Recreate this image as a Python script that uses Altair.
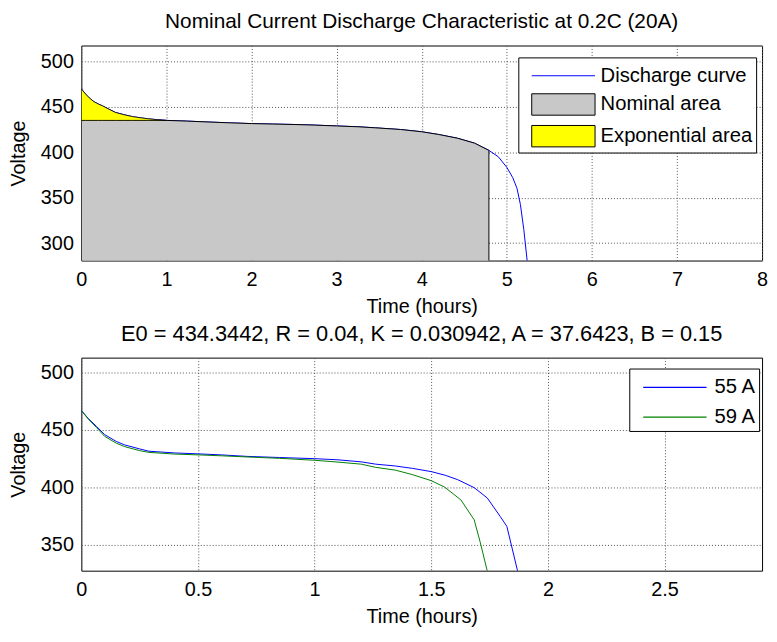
import altair as alt
import pandas as pd

# ---------------- Top panel: nominal discharge (0.2C, 20 A) ----------------
curve_t = [0, 0.05, 0.093, 0.15, 0.2, 0.25, 0.3, 0.4, 0.5, 0.6, 0.7, 0.79, 0.9, 1.0,
           1.25, 1.5, 1.75, 2.0, 2.25, 2.5, 2.75, 3.0, 3.25, 3.46, 3.75, 4.0, 4.2,
           4.42, 4.62, 4.79, 4.9, 5.0, 5.07, 5.12, 5.16, 5.2, 5.24, 5.27]
curve_v = [469.7, 464.0, 459.8, 455.5, 453.0, 451.0, 448.5, 443.8, 441.3, 439.2, 437.8,
           436.7, 435.7, 435.0, 434.2, 433.2, 432.3, 431.5, 431.0, 430.5, 429.8, 428.9,
           428.0, 426.8, 425.0, 422.5, 419.5, 415.4, 410.0, 402.0, 395.0, 383.4, 372.0,
           360.3, 342.5, 315.0, 280.0, 255.0]
nominal_end_t = 4.79
exp_level_v = 435.0
top_items = ["Discharge curve", "Nominal area", "Exponential area"]

# ---------------- Bottom panel: discharge at 55 A and 59 A ----------------
t55 = [0, 0.03, 0.066, 0.1, 0.15, 0.186, 0.25, 0.29, 0.4, 0.5, 0.6, 0.71, 0.85, 1.0,
       1.1, 1.2, 1.262, 1.346, 1.42, 1.5, 1.56, 1.613, 1.684, 1.74, 1.796, 1.824, 1.87]
v55 = [467.1, 460.0, 453.0, 446.0, 440.0, 437.0, 433.5, 431.5, 430.0, 429.2, 428.3,
       427.0, 426.0, 425.0, 424.0, 422.2, 420.2, 418.6, 416.5, 413.7, 410.5, 406.7,
       399.7, 390.7, 374.4, 365.9, 327.0]
t59 = [0, 0.03, 0.066, 0.1, 0.15, 0.186, 0.25, 0.29, 0.4, 0.5, 0.6, 0.71, 0.85, 1.0,
       1.1, 1.2, 1.262, 1.346, 1.42, 1.5, 1.557, 1.627, 1.684, 1.71, 1.74]
v59 = [467.1, 459.5, 452.0, 444.5, 438.5, 435.5, 432.0, 430.5, 429.0, 428.3, 427.5,
       426.5, 425.3, 423.6, 422.0, 420.2, 417.4, 415.0, 411.0, 405.8, 400.2, 389.0,
       371.6, 351.9, 327.0]
bottom_series = ["55 A", "59 A"]

FONT = "Liberation Sans"
W = 687
LABEL_PAD = "datum.label + '\u00a0\u00a0'"

# ---------------- data frames ----------------
top_df = pd.DataFrame({"t": curve_t, "v": curve_v})
nom_df = top_df[top_df.t <= nominal_end_t].copy()
nom_df["top"] = nom_df.v.clip(upper=exp_level_v)
exp_df = top_df[(top_df.v >= exp_level_v) & (top_df.t <= nominal_end_t)].copy()
exp_df["base"] = exp_level_v
legend_df = pd.DataFrame({"item": top_items})

bot_df = pd.concat([
    pd.DataFrame({"t": t55, "v": v55, "series": bottom_series[0]}),
    pd.DataFrame({"t": t59, "v": v59, "series": bottom_series[1]}),
])

# ---------------- top chart ----------------
xs_top = alt.Scale(domain=[0, 8], nice=False, zero=False)
ys_top = alt.Scale(domain=[280.8, 517.4], nice=False, zero=False)
x_top = alt.X("t:Q", scale=xs_top, title="Time (hours)",
              axis=alt.Axis(values=list(range(0, 9)), format="~g"))
y_top = alt.Y("v:Q", scale=ys_top, title="Voltage",
              axis=alt.Axis(values=[300, 350, 400, 450, 500]))

line_top = alt.Chart(top_df).mark_line(color="#0000ff", strokeWidth=1, clip=True).encode(
    x=x_top, y=y_top, order="t:Q")

nom_area = alt.Chart(nom_df).mark_area(color="#c8c8c8", stroke="black", strokeWidth=1,
                                       clip=True).encode(
    x=x_top, y=alt.Y("top:Q", scale=ys_top), y2=alt.Y2(datum=0))

exp_area = alt.Chart(exp_df).mark_area(color="#ffff00", stroke="black", strokeWidth=0.8,
                                       clip=True).encode(
    x=x_top, y=alt.Y("v:Q", scale=ys_top), y2="base:Q")

top_legend = alt.Legend(
    title=None, orient="none", legendX=441, legendY=12,
    fillColor="white", strokeColor="black", padding=3,
    symbolSize=900, symbolStrokeWidth=1, symbolOffset=27, labelOffset=22,
    rowPadding=3, labelFont=FONT, labelFontSize=20.4, labelColor="black",
    labelLimit=400, labelExpr=LABEL_PAD)
shape_paths = ["M-2.13,0H2.13", "M-2.13,-0.72H2.13V0.72H-2.13Z",
               "M-2.13,-0.72H2.13V0.72H-2.13Z"]
legend_layer = alt.Chart(legend_df).mark_point(filled=True, opacity=1, size=900).encode(
    shape=alt.Shape("item:N", scale=alt.Scale(domain=top_items, range=shape_paths),
                    legend=top_legend),
    fill=alt.Fill("item:N", scale=alt.Scale(domain=top_items,
                                            range=["white", "#c8c8c8", "#ffff00"]),
                  legend=top_legend),
    stroke=alt.Stroke("item:N", scale=alt.Scale(domain=top_items,
                                                range=["#0000ff", "black", "black"]),
                      legend=top_legend),
).transform_filter("false")

top_chart = alt.layer(line_top, nom_area, exp_area, legend_layer).properties(
    width=W, height=217,
    title=alt.Title("Nominal Current Discharge Characteristic at 0.2C (20A)",
                    baseline="alphabetic", offset=-3.7, fontSize=21))

# ---------------- bottom chart ----------------
xs_bot = alt.Scale(domain=[0, 2.918], nice=False, zero=False)
ys_bot = alt.Scale(domain=[327.2, 513.2], nice=False, zero=False)
bot_legend = alt.Legend(
    title=None, orient="none", legendX=553, legendY=11,
    fillColor="white", strokeColor="black", padding=3,
    symbolType="M-2.13,0H2.13", symbolSize=900, symbolStrokeWidth=1.2,
    symbolOffset=27, labelOffset=24, rowPadding=3,
    labelFont=FONT, labelFontSize=20.4, labelColor="black", labelExpr=LABEL_PAD)
bot_chart = alt.Chart(bot_df).mark_line(strokeWidth=1, clip=True).encode(
    x=alt.X("t:Q", scale=xs_bot, title="Time (hours)",
            axis=alt.Axis(values=[0, 0.5, 1, 1.5, 2, 2.5], format="~g")),
    y=alt.Y("v:Q", scale=ys_bot, title="Voltage",
            axis=alt.Axis(values=[350, 400, 450, 500])),
    stroke=alt.Stroke("series:N", scale=alt.Scale(domain=bottom_series,
                                                  range=["#0000ff", "#008000"]),
                      legend=bot_legend),
    order="t:Q",
).properties(
    width=W, height=215,
    title=alt.Title("E0 = 434.3442, R = 0.04, K = 0.030942, A = 37.6423, B = 0.15",
                    baseline="alphabetic", offset=-4.9, fontSize=22))

chart = alt.vconcat(top_chart, bot_chart, spacing=5).resolve_scale(
    x="independent", y="independent", stroke="independent", fill="independent",
    shape="independent").resolve_legend(stroke="independent").properties(
    padding={"left": 0, "top": 0, "right": 0, "bottom": 0},
    background="white",
).configure_view(stroke="black", strokeWidth=1).configure_axis(
    grid=True, gridColor="#555555", gridDash=[1, 2], gridWidth=1,
    ticks=False, domain=False,
    labelFont=FONT, labelFontSize=20, labelColor="black", labelPadding=8,
    titleFont=FONT, titleFontSize=20, titleFontWeight="normal", titleColor="black",
    titlePadding=7.5,
).configure_axisX(labelPadding=9, labelFlush=False).configure_axisY(
    labelPadding=8, titlePadding=12).configure_title(
    font=FONT, fontSize=20, fontWeight="normal", color="black", anchor="middle")

chart.save("out.html", embed_options={"renderer": "svg", "actions": False})
